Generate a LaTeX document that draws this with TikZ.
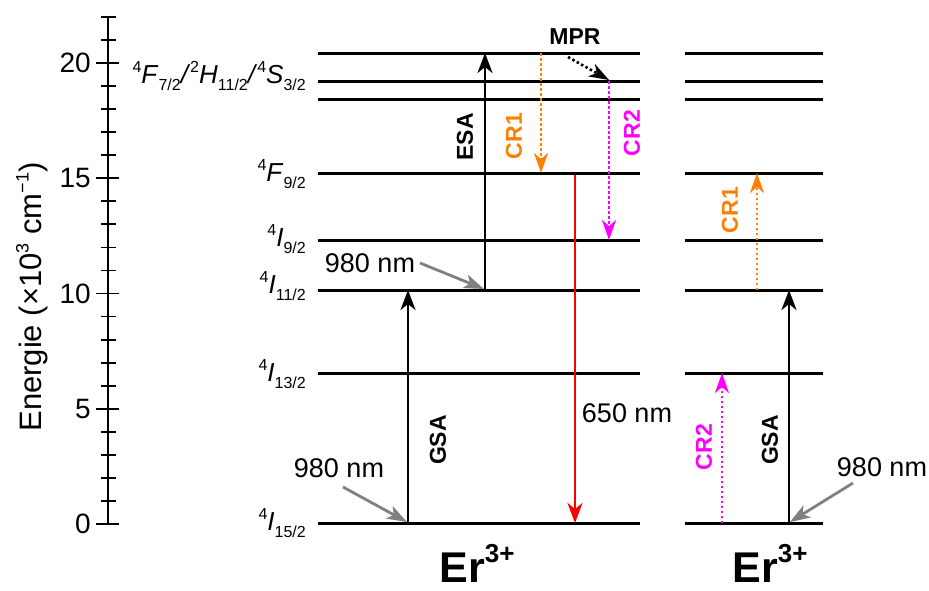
\documentclass[tikz,border=0pt]{standalone}
\usepackage{fontspec}
\setmainfont{Liberation Sans}
\usetikzlibrary{arrows.meta}
\newcommand\lvl[3]{\raisebox{0.8ex}{\fontsize{16}{16}\selectfont #1}\textit{#2}\raisebox{-0.55ex}{\fontsize{16}{16}\selectfont #3}}
\newcommand\ersym{Er\raisebox{0.85ex}{\fontsize{26}{26}\selectfont 3+}}
\definecolor{crorange}{RGB}{255,128,0}
\definecolor{crmag}{RGB}{255,0,255}
\definecolor{pumpgray}{RGB}{128,128,128}
\begin{document}
\begin{tikzpicture}[x=1pt,y=-1pt,
  level/.style={line width=3pt},
  axisline/.style={line width=1.8pt},
  up/.style={line width=2.8pt,-{Stealth[length=20pt,width=15pt,inset=6pt]}},
  dotline/.style={line width=2.6pt,dash pattern=on 2.5pt off 2.5pt,-{Stealth[length=20pt,width=14pt,inset=6pt]}},
  pump/.style={pumpgray,line width=2.8pt,-{Stealth[length=20pt,width=14pt,inset=5pt]}},
  txt/.style={font=\fontsize{27}{27}\selectfont,inner sep=0},
  blbl/.style={font=\bfseries\fontsize{23}{23}\selectfont,inner sep=0,rotate=90},
  lvlbl/.style={font=\fontsize{26}{26}\selectfont,inner sep=0,anchor=base east},
  erlbl/.style={font=\bfseries\fontsize{43}{43}\selectfont,inner sep=0,anchor=base}]
\useasboundingbox (0,0) rectangle (929,590);
% axis
\draw[axisline] (108,17) -- (108,524);
\foreach \k in {0,...,22}{
  \draw[axisline] (101,524-\k*23.05) -- (116,524-\k*23.05);}
\foreach \k/\lab in {0/0,5/5,10/10,15/15,20/20}{
  \draw[axisline] (96,524-\k*23.05) -- (119,524-\k*23.05);
  \node[txt,anchor=east,font=\fontsize{28}{28}\selectfont] (t\k) at (91,524-\k*23.05) {\lab};}
\node[txt,rotate=90,font=\fontsize{31}{31}\selectfont] (ylab) at (32,297) {Energie (×10\raisebox{0.8ex}{\fontsize{18}{18}\selectfont 3} cm\raisebox{0.8ex}{\fontsize{18}{18}\selectfont −1})};
% levels
\foreach \y in {53,81,99,173,240,290,373,523}{
  \draw[level] (318,\y) -- (640,\y);
  \draw[level] (685,\y) -- (823,\y);}
% level labels
\node[lvlbl] (L1) at (306,83) {\lvl{4}{F}{7/2}\textit{/}\lvl{2}{H}{11/2}\textit{/}\lvl{4}{S}{3/2}};
\node[lvlbl] (L2) at (306,181) {\lvl{4}{F}{9/2}};
\node[lvlbl] (L3) at (306,246) {\lvl{4}{I}{9/2}};
\node[lvlbl] (L4) at (306,293) {\lvl{4}{I}{11/2}};
\node[lvlbl] (L5) at (306,381) {\lvl{4}{I}{13/2}};
\node[lvlbl] (L6) at (306,530) {\lvl{4}{I}{15/2}};
% coordinates
\coordinate (gsa0) at (408,523); \coordinate (gsa1) at (408,290);
\coordinate (esa0) at (485,290); \coordinate (esa1) at (485,53);
\coordinate (cra0) at (541,53);  \coordinate (cra1) at (541,173);
\coordinate (crb0) at (609,81);  \coordinate (crb1) at (609,240);
\coordinate (mpr0) at (568,57);  \coordinate (mpr1) at (609,80);
\coordinate (red0) at (575,175); \coordinate (red1) at (575,523);
\coordinate (p1a) at (343,487);  \coordinate (p1b) at (407,522);
\coordinate (p2a) at (420,263);  \coordinate (p2b) at (484,289);
\coordinate (rcra0) at (757,290); \coordinate (rcra1) at (757,173);
\coordinate (rgsa0) at (789,523); \coordinate (rgsa1) at (789,290);
\coordinate (rcrb0) at (722,523); \coordinate (rcrb1) at (722,373);
\coordinate (p3a) at (853,483);  \coordinate (p3b) at (790,522);
% arrows
\draw[up] (gsa0) -- (gsa1);
\draw[up] (esa0) -- (esa1);
\draw[dotline,crorange] (cra0) -- (cra1);
\draw[dotline,crmag] (crb0) -- (crb1);
\draw[dotline,black] (mpr0) -- (mpr1);
\draw[up,red] (red0) -- (red1);
\draw[pump] (p1a) -- (p1b);
\draw[pump] (p2a) -- (p2b);
\draw[dotline,crorange] (rcra0) -- (rcra1);
\draw[up] (rgsa0) -- (rgsa1);
\draw[dotline,crmag] (rcrb0) -- (rcrb1);
\draw[pump] (p3a) -- (p3b);
% labels
\node[blbl] (lgsa) at (438,440) {GSA};
\node[blbl] (lesa) at (465,137) {ESA};
\node[blbl,crorange] (lcra) at (514,136) {CR1};
\node[blbl,crmag] (lcrb) at (632,133) {CR2};
\node[inner sep=0,font=\bfseries\fontsize{23}{23}\selectfont] (lmpr) at (575,37) {MPR};
\node[txt] (l650) at (627,413) {650 nm};
\node[txt] (l980a) at (339,468) {980 nm};
\node[txt] (l980b) at (370,263) {980 nm};
\node[txt] (l980c) at (882,467) {980 nm};
\node[blbl,crorange] (rlcra) at (730,210) {CR1};
\node[blbl,crmag] (rlcrb) at (704,447) {CR2};
\node[blbl] (rlgsa) at (770,440) {GSA};
\node[erlbl] (er1) at (477,582) {\ersym};
\node[erlbl] (er2) at (770,582) {\ersym};
\end{tikzpicture}
\end{document}
